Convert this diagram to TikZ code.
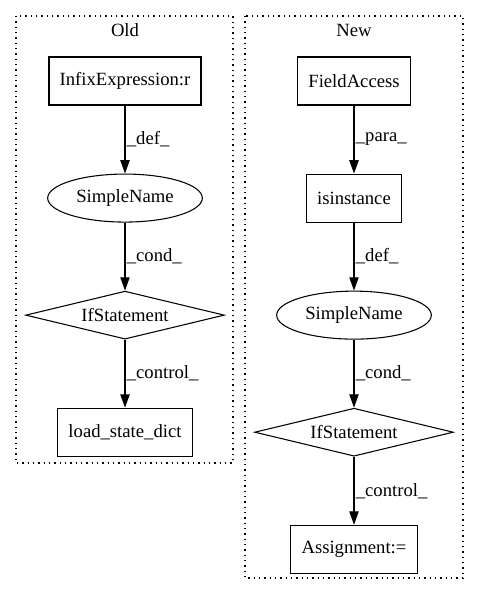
\documentclass[tikz,border=0pt]{standalone}
\usepackage{fontspec}
\setmainfont{Liberation Serif}
\usetikzlibrary{shapes.geometric, positioning, arrows.meta}
\tikzset{
stmt/.style={shape=rectangle, draw, line width=0.8pt, minimum height=36pt, inner xsep=8pt, font=\fontsize{14pt}{16pt}\selectfont}, varnode/.style={ellipse, draw, line width=0.8pt, minimum width=116pt, minimum height=36pt, inner sep=1pt, font=\fontsize{14pt}{16pt}\selectfont}, cond/.style={diamond, draw, line width=0.8pt, aspect=4, minimum width=149pt, minimum height=36pt, inner sep=1pt, font=\fontsize{14pt}{16pt}\selectfont},
flow/.style={-{Triangle[length=10pt, width=7pt]}, line width=0.8pt}, lbl/.style={right, inner sep=1pt, font=\fontsize{14pt}{16pt}\selectfont}, cluster/.style={line width=0.8pt, dash pattern=on 1pt off 3pt}, title/.style={font=\fontsize{14pt}{16pt}\selectfont}}

\begin{document}
\begin{tikzpicture}[x=0.75pt, y=-0.75pt, node distance=51pt]
\useasboundingbox (0,0) rectangle (480,596);
\draw [cluster] (16,16) rectangle (233,463);
\draw [cluster] (245,16) rectangle (463,578);
\node [title] (old) at (125,30) {Old};
\node [title] (new) at (354,30) {New};
% old
\node [stmt] (infix) at (125,81) {InfixExpression:r};
\node [varnode, below=of infix] (oldname) {SimpleName};
\node [cond, below=of oldname] (oldif) {IfStatement};
\node [stmt, below=of oldif] (load) {load\_state\_dict};
\draw [flow] (infix) -- node [lbl] {\_def\_} (oldname);
\draw [flow] (oldname) -- node [lbl] {\_cond\_} (oldif);
\draw [flow] (oldif) -- node [lbl] {\_control\_} (load);
% new
\node [stmt] (field) at (354,81) {FieldAccess};
\node [stmt, below=of field] (isinst) {isinstance};
\node [varnode, below=of isinst] (newname) {SimpleName};
\node [cond, below=of newname] (newif) {IfStatement};
\node [stmt, below=of newif] (assign) {Assignment:=};
\draw [flow] (field) -- node [lbl] {\_para\_} (isinst);
\draw [flow] (isinst) -- node [lbl] {\_def\_} (newname);
\draw [flow] (newname) -- node [lbl] {\_cond\_} (newif);
\draw [flow] (newif) -- node [lbl] {\_control\_} (assign);
\end{tikzpicture}
\end{document}
